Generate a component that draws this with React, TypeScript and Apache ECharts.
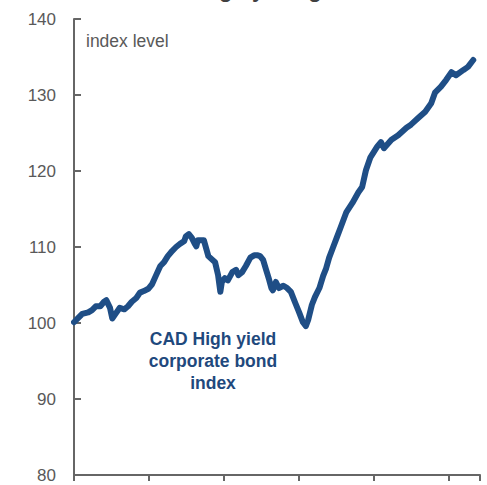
import React, { useEffect, useRef } from "react";
import * as echarts from "echarts";

// x positions in years from start of the chart (one tick per year)
const xYears: number[] = [
  0, 0.05, 0.11, 0.19, 0.24, 0.29, 0.35, 0.4, 0.43, 0.48, 0.51, 0.56, 0.61, 0.67, 0.72, 0.77,
  0.83, 0.88, 0.93, 0.99, 1.04, 1.09, 1.15, 1.2, 1.25, 1.31, 1.36, 1.41, 1.47, 1.49, 1.53,
  1.63, 1.57, 1.61, 1.65, 1.79, 1.73, 1.88, 1.92, 1.95, 1.97, 2.01, 2.05, 2.11, 2.16, 2.19,
  2.24, 2.29, 2.35, 2.4, 2.45, 2.48, 2.52, 2.56, 2.6, 2.63, 2.65, 2.69, 2.73, 2.79, 2.84,
  2.89, 2.95, 3.0, 3.05, 3.09, 3.12, 3.17, 3.21, 3.27, 3.32, 3.36, 3.4, 3.45, 3.5, 3.55,
  3.63, 3.71, 3.79, 3.84, 3.89, 3.95, 4.04, 4.09, 4.13, 4.23, 4.32, 4.43, 4.49, 4.59, 4.68,
  4.76, 4.81, 4.89, 4.96, 5.03, 5.09, 5.19, 5.25, 5.32
];
const indexLevel: number[] = [
  100.1, 100.6, 101.2, 101.4, 101.7, 102.2, 102.2, 102.8, 103.0, 102.0, 100.6, 101.3, 102.0, 101.8, 102.2, 102.8,
  103.3, 104.0, 104.2, 104.5, 105.1, 106.2, 107.5, 108.0, 108.8, 109.5, 110.0, 110.4, 110.8, 111.4, 111.7,
  110.1, 111.2, 110.4, 110.9, 108.8, 110.9, 108.0, 106.3, 104.1, 105.4, 105.9, 105.6, 106.7, 107.0, 106.3,
  106.7, 107.5, 108.6, 108.9, 108.9, 108.8, 108.3, 107.0, 105.7, 104.6, 104.3, 105.4, 104.6, 104.9, 104.6,
  104.1, 102.6, 101.4, 100.1, 99.6, 100.4, 102.4, 103.4, 104.6, 106.2, 107.2, 108.6, 109.9, 111.2, 112.5,
  114.6, 115.8, 117.2, 117.9, 120.1, 121.8, 123.2, 123.8, 123.0, 124.1, 124.7, 125.7, 126.1, 127.0, 127.8,
  128.9, 130.3, 131.1, 132.0, 133.0, 132.6, 133.3, 133.7, 134.6
];
const yTicks: number[] = [80, 90, 100, 110, 120, 130, 140];
const unitLabel = "index level";
const seriesLabel = "CAD High yield\ncorporate bond\nindex";
const titleText = "Canadian high yield gains";

export default function App() {
  const ref = useRef<HTMLDivElement>(null);
  useEffect(() => {
    if (!ref.current) return;
    const chart = echarts.init(ref.current, undefined, { renderer: "svg" });
    const pts = xYears.map((x, i) => [x, indexLevel[i]]).sort((a, b) => a[0] - b[0]);
    chart.setOption({
      animation: false,
      grid: { left: 74, right: 7, top: 19, bottom: 10, containLabel: false },
      xAxis: {
        type: "value",
        min: 0,
        max: 5.41,
        interval: 1,
        axisLine: { lineStyle: { color: "#666666", width: 2 } },
        axisTick: { show: true, length: 6, inside: false, lineStyle: { color: "#666666", width: 2 } },
        axisLabel: { show: false },
        splitLine: { show: false },
      },
      yAxis: {
        type: "value",
        min: yTicks[0],
        max: yTicks[yTicks.length - 1],
        interval: 10,
        axisLine: { show: true, lineStyle: { color: "#666666", width: 2 } },
        axisTick: { show: true, inside: true, length: 7, lineStyle: { color: "#666666", width: 2 } },
        axisLabel: { color: "#595959", fontSize: 17, fontFamily: "Arial, Liberation Sans", margin: 18 },
        splitLine: { show: false },
      },
      graphic: [
        {
          type: "text",
          left: 86,
          top: 32,
          style: { text: unitLabel, fill: "#595959", fontSize: 17.5, fontFamily: "Arial, Liberation Sans" },
        },
        {
          type: "text",
          x: 213,
          y: 328,
          style: {
            text: seriesLabel,
            fill: "#1f497d",
            fontSize: 17.5,
            fontWeight: "bold",
            lineHeight: 22,
            align: "center",
            fontFamily: "Arial, Liberation Sans",
          },
        },
        {
          type: "text",
          x: 230,
          y: 0,
          style: {
            text: titleText,
            fill: "#404040",
            fontSize: 22,
            fontWeight: "bold",
            align: "center",
            verticalAlign: "bottom",
            fontFamily: "Arial, Liberation Sans",
          },
        },
      ],
      series: [
        {
          type: "line",
          data: pts,
          showSymbol: false,
          smooth: false,
          lineStyle: { color: "#1f4e86", width: 6, cap: "round", join: "round" },
        },
      ],
    });
    return () => chart.dispose();
  }, []);
  return <div ref={ref} style={{ width: 487, height: 485, position: "absolute", left: 0, top: 0 }} />;
}
